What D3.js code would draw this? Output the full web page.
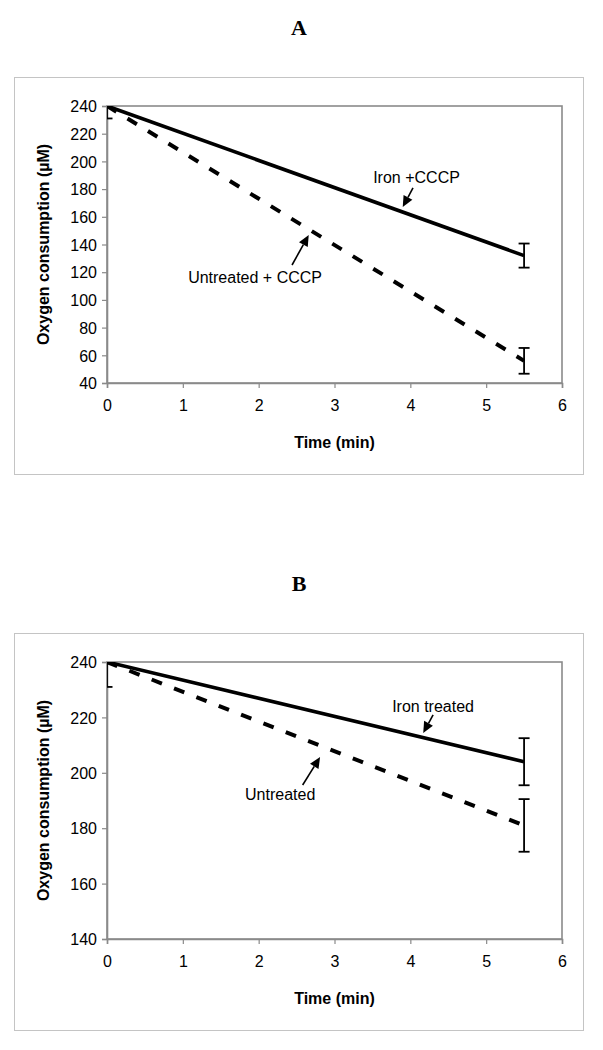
<!DOCTYPE html>
<html>
<head>
<meta charset="utf-8">
<script src="https://cdn.jsdelivr.net/npm/d3@7"></script>
<style>
  html, body { margin: 0; padding: 0; background: #fff; }
  svg { display: block; }
</style>
</head>
<body>
<script>
// ---------- DATA ----------
const timePoints = [0, 5.5];
const xTicks = [0, 1, 2, 3, 4, 5, 6];

// Panel A
const panelATitle = "A";
const ironCCCP = [240, 132];
const ironCCCPErr = [0, 8.7];
const untreatedCCCP = [240, 56];
const untreatedCCCPErr = [9, 9.3];
const yTicksA = [40, 60, 80, 100, 120, 140, 160, 180, 200, 220, 240];

// Panel B
const panelBTitle = "B";
const ironTreated = [240, 204];
const ironTreatedErr = [0, 8.5];
const untreated = [240, 181];
const untreatedErr = [9, 9.5];
const yTicksB = [140, 160, 180, 200, 220, 240];

const xLabel = "Time (min)";
const yLabel = "Oxygen consumption (\u00B5M)";

// ---------- LAYOUT ----------
const W = 603, H = 1050;
const FONT = "'Liberation Sans', Arial, Helvetica, sans-serif";
const SERIF = "'Liberation Serif', 'Times New Roman', serif";

const svg = d3.select("body").append("svg")
  .attr("width", W).attr("height", H)
  .attr("viewBox", `0 0 ${W} ${H}`);
svg.append("rect").attr("width", W).attr("height", H).attr("fill", "#fff");

const panels = [
  {
    title: panelATitle, dy: 0, yTicks: yTicksA, domain: [40, 240],
    series: [
      { values: ironCCCP, err: ironCCCPErr, dashed: false },
      { values: untreatedCCCP, err: untreatedCCCPErr, dashed: true }
    ],
    notes: [
      { text: "Iron +CCCP", at: [3.51, 184.4], tail: [4.035, 180.8], tip: [3.90, 167.1] },
      { text: "Untreated + CCCP", at: [1.07, 112.2], tail: [2.44, 125.2], tip: [2.66, 146.9] }
    ]
  },
  {
    title: panelBTitle, dy: 556, yTicks: yTicksB, domain: [140, 240],
    series: [
      { values: ironTreated, err: ironTreatedErr, dashed: false },
      { values: untreated, err: untreatedErr, dashed: true }
    ],
    notes: [
      { text: "Iron treated", at: [3.76, 221.9], tail: [4.30, 220.9], tip: [4.17, 214.4] },
      { text: "Untreated", at: [1.82, 190.2], tail: [2.58, 195.6], tip: [2.81, 205.7] }
    ]
  }
];

const plot = { left: 107, top: 106, right: 562, bottom: 383 };
const box = { x: 14, y: 77, w: 569, h: 397 };

panels.forEach((p, pi) => {
  const g = svg.append("g").attr("transform", `translate(0,${p.dy})`);

  // Title
  g.append("text")
    .attr("x", 299).attr("y", 35)
    .attr("text-anchor", "middle")
    .attr("font-family", SERIF).attr("font-weight", "bold")
    .attr("font-size", 22).attr("fill", "#000")
    .text(p.title);

  // Outer chart box
  g.append("rect")
    .attr("x", box.x + 0.5).attr("y", box.y + 0.5)
    .attr("width", box.w).attr("height", box.h)
    .attr("fill", "#fff").attr("stroke", "#c4c4c4").attr("stroke-width", 1);

  const x = d3.scaleLinear().domain([0, 6]).range([plot.left, plot.right]);
  const y = d3.scaleLinear().domain(p.domain).range([plot.bottom, plot.top]);

  // Plot frame
  g.append("rect")
    .attr("x", plot.left).attr("y", plot.top)
    .attr("width", plot.right - plot.left).attr("height", plot.bottom - plot.top)
    .attr("fill", "#fff").attr("stroke", "#8a8a8a").attr("stroke-width", 1.6);

  // Axes
  const yAxis = d3.axisLeft(y).tickValues(p.yTicks).tickSize(5).tickPadding(5)
    .tickFormat(d3.format("d"));
  const gy = g.append("g").attr("transform", `translate(${plot.left},0)`).call(yAxis);
  const xAxis = d3.axisBottom(x).tickValues(xTicks).tickSize(5).tickPadding(12)
    .tickFormat(d3.format("d"));
  const gx = g.append("g").attr("transform", `translate(0,${plot.bottom})`).call(xAxis);
  [gx, gy].forEach(a => {
    a.select(".domain").attr("stroke", "#8a8a8a").attr("stroke-width", 1.6);
    a.selectAll(".tick line").attr("stroke", "#8a8a8a").attr("stroke-width", 1.2);
    a.selectAll(".tick text").attr("font-family", FONT).attr("font-size", 16).attr("fill", "#000");
  });
  gy.selectAll(".tick text").attr("dy", "0.36em");

  // Axis titles
  g.append("text")
    .attr("x", (plot.left + plot.right) / 2).attr("y", 448)
    .attr("text-anchor", "middle")
    .attr("font-family", FONT).attr("font-weight", "bold").attr("font-size", 16)
    .text(xLabel);
  g.append("text")
    .attr("transform", `translate(49,${(plot.top + plot.bottom) / 2}) rotate(-90)`)
    .attr("text-anchor", "middle")
    .attr("font-family", FONT).attr("font-weight", "bold").attr("font-size", 16)
    .text(yLabel);

  // Clip
  const clipId = "clip" + pi;
  g.append("clipPath").attr("id", clipId).append("rect")
    .attr("x", plot.left).attr("y", plot.top)
    .attr("width", plot.right - plot.left).attr("height", plot.bottom - plot.top);
  const inner = g.append("g").attr("clip-path", `url(#${clipId})`);

  const line = d3.line().x(d => x(d[0])).y(d => y(d[1]));

  p.series.forEach(s => {
    const pts = timePoints.map((t, i) => [t, s.values[i]]);
    // error bars
    timePoints.forEach((t, i) => {
      const e = s.err[i];
      if (!e) return;
      const cx = x(t), y1 = y(s.values[i] + e), y2 = y(s.values[i] - e);
      inner.append("line").attr("x1", cx).attr("x2", cx).attr("y1", y1).attr("y2", y2)
        .attr("stroke", "#000").attr("stroke-width", 1.8);
      [y1, y2].forEach(yy => inner.append("line")
        .attr("x1", cx - 5.5).attr("x2", cx + 5.5).attr("y1", yy).attr("y2", yy)
        .attr("stroke", "#000").attr("stroke-width", 1.8));
    });
    inner.append("path").datum(pts)
      .attr("d", line)
      .attr("fill", "none").attr("stroke", "#000")
      .attr("stroke-width", s.dashed ? 4 : 3.6)
      .attr("stroke-dasharray", s.dashed ? "11,13" : null);
  });

  // Annotations
  p.notes.forEach(n => {
    g.append("text")
      .attr("x", x(n.at[0])).attr("y", y(n.at[1]))
      .attr("font-family", FONT).attr("font-size", 16).attr("fill", "#000")
      .text(n.text);
    const x1 = x(n.tail[0]), y1 = y(n.tail[1]);
    const x2 = x(n.tip[0]), y2 = y(n.tip[1]);
    const dx = x2 - x1, dy = y2 - y1, len = Math.hypot(dx, dy);
    const ux = dx / len, uy = dy / len;
    const hl = 11, hw = 5;
    const bx = x2 - ux * hl, by = y2 - uy * hl;
    g.append("line").attr("x1", x1).attr("y1", y1).attr("x2", bx).attr("y2", by)
      .attr("stroke", "#000").attr("stroke-width", 1.6);
    g.append("path")
      .attr("d", `M${x2},${y2}L${bx - uy * hw},${by + ux * hw}L${bx + uy * hw},${by - ux * hw}Z`)
      .attr("fill", "#000");
  });
});
</script>
</body>
</html>
